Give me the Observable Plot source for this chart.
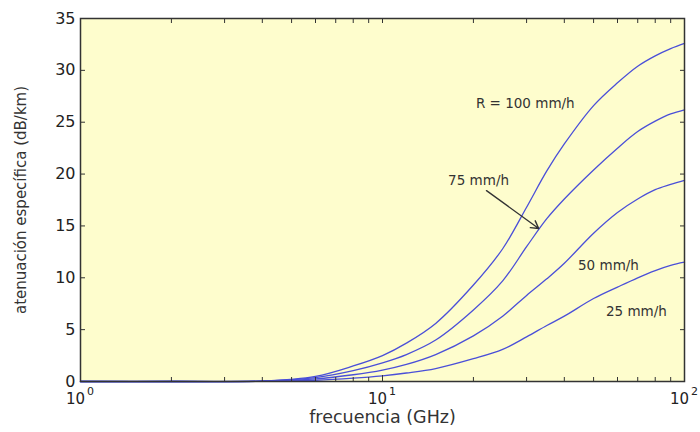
<!DOCTYPE html>
<html><head><meta charset="utf-8">
<script src="https://cdn.jsdelivr.net/npm/d3@7"></script>
<script src="https://cdn.jsdelivr.net/npm/@observablehq/plot@0.6"></script>
<style>body{margin:0;background:#fff;} svg{font-family:"DejaVu Sans",sans-serif;}</style>
</head><body><div id="chart"></div>
<script>
// frequency (GHz)
const freq = [1,2,4,6,8,10,12,15,20,25,30,35,40,50,60,70,80,90,100];
// specific attenuation (dB/km) per rain rate
const r100 = [0,0,0.05,0.5,1.5,2.5,3.7,5.6,9.3,12.8,16.8,20.3,22.9,26.6,28.8,30.4,31.4,32.1,32.6];
const r75  = [0,0,0.04,0.38,1.05,1.8,2.6,4.0,6.9,9.7,13.0,15.7,17.6,20.4,22.5,24.1,25.1,25.8,26.2];
const r50  = [0,0,0.03,0.25,0.65,1.1,1.65,2.6,4.4,6.3,8.3,9.9,11.4,14.3,16.3,17.6,18.5,19.0,19.4];
const r25  = [0,0,0.02,0.12,0.32,0.55,0.82,1.25,2.2,3.1,4.3,5.4,6.3,8.0,9.1,10.0,10.7,11.2,11.5];
const rates = [100,75,50,25];
const seriesValues = [r100,r75,r50,r25];

const yTicks = [0,5,10,15,20,25,30,35];
const xMajor = [1,10,100];
const xMajorBase = ["10","10","10"];
const xMajorExp = ["0","1","2"];
const xMinor = [2,3,4,5,6,7,8,9,20,30,40,50,60,70,80,90];

const annotText = ["R = 100 mm/h","75 mm/h","50 mm/h","25 mm/h"];
const annotX = [29.7,20.8,56,69.3];
const annotY = [26.8,19.4,11.2,6.75];
const arrowFrom = {x:22.1, y:18.4};
const arrowTo = {x:32.9, y:14.75};

const rows = [];
rates.forEach((R,i)=>freq.forEach((f,j)=>rows.push({R, f, a: seriesValues[i][j]})));
const annots = annotText.map((t,i)=>({t, x:annotX[i], y:annotY[i]}));
const majors = xMajor.map((x,i)=>({x, b:xMajorBase[i], e:xMajorExp[i]}));
const allXTicks = xMajor.concat(xMinor);

const plot = Plot.plot({
  width:700, height:432,
  marginLeft:80, marginRight:16, marginTop:18, marginBottom:51,
  style:{fontFamily:'"DejaVu Sans",sans-serif', background:"#fff", color:"#222"},
  x:{type:"log", domain:[1,100]},
  y:{domain:[0,35]},
  marks:[
    Plot.frame({fill:"#fefdcd"}),
    Plot.line(rows,{x:"f", y:"a", z:"R", stroke:"#4a4fd8", strokeWidth:1.3, curve:"catmull-rom"}),
    Plot.axisY(yTicks,{anchor:"left", tickSize:-5, tickPadding:10, fontSize:16, label:null, stroke:"#333", fill:"#222"}),
    Plot.axisY(yTicks,{anchor:"right", tickSize:-5, text:null, label:null, stroke:"#333"}),
    Plot.axisX(allXTicks,{anchor:"bottom", tickSize:-4, text:null, label:null, stroke:"#333"}),
    Plot.axisX(allXTicks,{anchor:"top", tickSize:-4, text:null, label:null, stroke:"#333"}),
    Plot.axisX(xMajor,{anchor:"bottom", tickSize:-6, text:null, label:null, stroke:"#333"}),
    Plot.text(majors,{x:"x", text:"b", frameAnchor:"bottom", dx:-5, dy:22, fontSize:15, fill:"#222"}),
    Plot.text(majors,{x:"x", text:"e", frameAnchor:"bottom", dx:10, dy:13, fontSize:11, fill:"#222"}),
    Plot.frame({stroke:"#333", strokeWidth:1.5}),
    Plot.text(["frecuencia (GHz)"],{frameAnchor:"bottom", dy:41, fontSize:17.5, fill:"#333"}),
    Plot.text(["atenuación específica (dB/km)"],{frameAnchor:"left", textAnchor:"middle", dx:-59, rotate:-90, fontSize:15, fill:"#333"}),
    Plot.text(annots,{x:"x", y:"y", text:"t", fontSize:13.5, fill:"#333"}),
    Plot.arrow([{x1:arrowFrom.x,y1:arrowFrom.y,x2:arrowTo.x,y2:arrowTo.y}],
      {x1:"x1", y1:"y1", x2:"x2", y2:"y2", stroke:"#333", strokeWidth:1.4, headLength:9, bend:false})
  ]
});
document.getElementById("chart").appendChild(plot);
</script>
</body></html>
